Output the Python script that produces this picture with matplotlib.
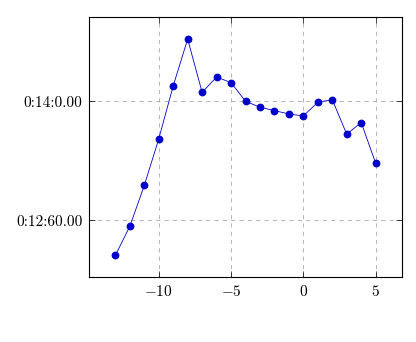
import matplotlib
matplotlib.use("Agg")
import matplotlib.pyplot as plt

plt.rcParams['mathtext.fontset'] = 'cm'
plt.rcParams['font.family'] = 'serif'
plt.rcParams['font.serif'] = ['cmr10', 'DejaVu Serif']
plt.rcParams['axes.formatter.use_mathtext'] = True

x_values = [-13, -12, -11, -10, -9, -8, -7, -6, -5, -4, -3, -2, -1, 0, 1, 2, 3, 4, 5]
y_seconds = [762.4, 777.0, 797.6, 821.0, 847.7, 871.3, 844.5, 852.2, 849.4, 840.0,
             837.0, 835.3, 833.6, 832.6, 839.5, 840.8, 823.4, 829.3, 808.8]
x_ticks = [-10, -5, 0, 5]
x_tick_labels = ['$-10$', '$-5$', '$0$', '$5$']
y_ticks = [780, 840]
y_tick_labels = ['0:12:60.00', '0:14:0.00']

fig = plt.figure(figsize=(4.16, 3.42), dpi=100)
ax = fig.add_axes([0.2147, 0.190, 0.7509, 0.759])

ax.plot(x_values, y_seconds, color='#0000cc', linewidth=0.6, marker='o',
        markersize=4.6, markerfacecolor='#0000cc', markeredgecolor='#0000cc', zorder=3)

ax.set_xlim(-14.8, 6.8)
ax.set_ylim(751.5, 882.2)
ax.set_xticks(x_ticks)
ax.set_xticklabels(x_tick_labels, fontsize=11)
ax.set_yticks(y_ticks)
ax.set_yticklabels(y_tick_labels, fontsize=11, fontfamily='cmr10')
ax.tick_params(direction='in', length=4, width=0.5, top=True, right=True, colors='black', pad=5)
ax.grid(True, color='#a8a8a8', linestyle=(0, (5, 5)), linewidth=0.6)
for s in ax.spines.values():
    s.set_linewidth(0.8)

fig.savefig('out.png', dpi=100)
